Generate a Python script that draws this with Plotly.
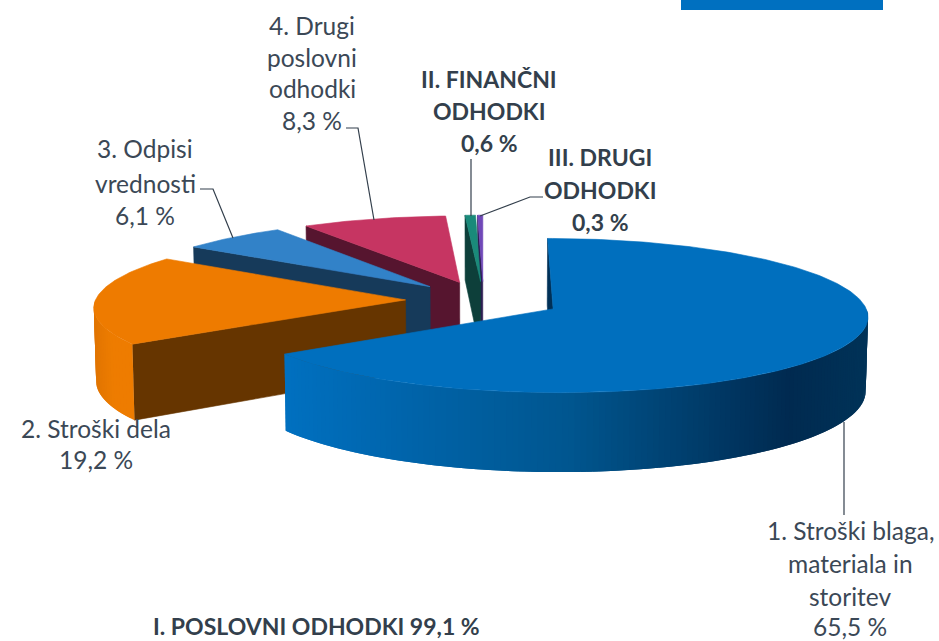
import numpy as np
import plotly.graph_objects as go

# ---- data ----
categories = ["1. Stroški blaga, materiala in storitev", "2. Stroški dela", "3. Odpisi vrednosti",
              "4. Drugi poslovni odhodki", "II. FINANČNI ODHODKI", "III. DRUGI ODHODKI"]
values = [65.5, 19.2, 6.1, 8.3, 0.6, 0.3]
top_colors = ["#006FBE", "#EE7B00", "#3282C8", "#C63562", "#1A8A7A", "#7048B8"]
wall_colors = ["#003057", "#663500", "#163A5A", "#56152F", "#0D3F3A", "#2C1C52"]
blue_wall_x = [285, 450, 570, 790, 870]
blue_wall_rgb = [(0, 112, 192), (0, 96, 163), (0, 86, 143), (0, 42, 80), (0, 51, 88)]
orange_wall_x = [93, 112, 140]
orange_wall_rgb = [(224, 116, 0), (238, 124, 0), (238, 124, 0)]

label_text = ["4. Drugi", "poslovni", "odhodki", "8,3 %",
              "3. Odpisi", "vrednosti", "6,1 %",
              "2. Stroški dela", "19,2 %",
              "1. Stroški blaga,", "materiala in", "storitev", "65,5 %"]
label_x = [312, 312, 312, 312, 145, 145, 145, 96, 96, 850, 850, 850, 850]
label_y = [25, 57, 88, 120, 148, 183, 215, 428, 459, 530, 563, 596, 626]
bold_text = ["II. FINANČNI", "ODHODKI", "0,6 %", "III. DRUGI", "ODHODKI", "0,3 %",
             "I. POSLOVNI ODHODKI 99,1 %"]
bold_x = [489, 489, 489, 600, 600, 600, 316]
bold_y = [79, 111, 143, 157, 190, 222, 626]
leaders = [([844, 844], [422, 515]),
           ([200, 213, 233], [189, 189, 238]),
           ([346, 358, 374], [128, 128, 220]),
           ([471, 471], [159, 216]),
           ([480, 530, 543], [216, 197, 197])]

# ---- projection of the exploded 3-D pie ----
CX, CY, R, TILT_R, EXPLODE, PERSP, DEPTH, DEPTH_K, BASE_X = 483.5, 300, 310, 75, 78, 0.085, 72.5, 0.086, 0.994


def project(theta, radius, phi):
    u = radius * np.sin(theta) + EXPLODE * np.sin(phi)
    v = radius * np.cos(theta) + EXPLODE * np.cos(phi)
    s = 1 / (1 + PERSP * v / R)
    x = CX + u * s
    y = CY - TILT_R / R * v * s
    bx = CX + (x - CX) * BASE_X
    by = y + DEPTH * (1 - DEPTH_K * v / R)
    return x, y, bx, by


def patch(fig, xs, ys, color, width=0.6):
    fig.add_trace(go.Scatter(x=list(xs), y=list(ys), mode="lines", fill="toself", fillcolor=color,
                             line=dict(color=color, width=width), hoverinfo="skip", showlegend=False))


def shade(x, xp, rgb):
    c = [int(round(np.interp(x, xp, [p[i] for p in rgb]))) for i in range(3)]
    return "rgb(%d,%d,%d)" % tuple(c)


fig = go.Figure()
fractions = np.array(values) / sum(values) * 2 * np.pi
stops = np.concatenate([[0], np.cumsum(fractions)])

for i in [5, 4, 3, 2, 1, 0]:
    a0, a1 = stops[i], stops[i + 1]
    phi = (a0 + a1) / 2
    # start-edge wall
    xa, ya, bxa, bya = project(np.array([a0]), 0.0, phi)
    xb, yb, bxb, byb = project(np.array([a0]), float(R), phi)
    patch(fig, [xa[0], xb[0], bxb[0], bxa[0], xa[0]], [ya[0], yb[0], byb[0], bya[0], ya[0]], wall_colors[i])
    # outer wall, only where it faces the viewer; each strip overlaps the next one to hide seams
    lo, hi = max(a0, np.pi / 2), min(a1, 1.5 * np.pi)
    if hi > lo and i < 2:
        n = 140 if i == 0 else 24
        th = np.linspace(lo, hi, n + 1)
        x, y, bx, by = project(th, float(R), phi)
        for k in range(n):
            xm = (x[k] + x[k + 1]) / 2
            col = shade(xm, blue_wall_x, blue_wall_rgb) if i == 0 else shade(xm, orange_wall_x, orange_wall_rgb)
            j0, j1 = (k, min(k + 2, n))
            seg = np.arange(j0, j1 + 1)
            patch(fig, np.r_[x[seg], bx[seg][::-1], x[j0]], np.r_[y[seg], by[seg][::-1], y[j0]], col, width=0)
    # top face
    th = np.linspace(a0, a1, max(8, int((a1 - a0) * 60)))
    x, y, _, _ = project(th, float(R), phi)
    xa, ya, _, _ = project(np.array([a0]), 0.0, phi)
    patch(fig, np.r_[xa, x, xa], np.r_[ya, y, ya], top_colors[i])

for lx, ly in leaders:
    fig.add_trace(go.Scatter(x=lx, y=ly, mode="lines", line=dict(color="#333F4C", width=1.2),
                             hoverinfo="skip", showlegend=False))

FONT = "Lato"
for t, x, y in zip(label_text, label_x, label_y):
    fig.add_annotation(x=x, y=y, text=t, showarrow=False, xanchor="center", yanchor="middle",
                       font=dict(family=FONT, size=24.5, color="#3B4856"))
for t, x, y in zip(bold_text, bold_x, bold_y):
    fig.add_annotation(x=x, y=y, text="<b>%s</b>" % t, showarrow=False, xanchor="center", yanchor="middle",
                       font=dict(family=FONT, size=23, color="#333F4C"))

fig.add_shape(type="rect", x0=681, x1=883, y0=0, y1=10, fillcolor="#0070C0", line_width=0, layer="above")

fig.update_layout(width=939, height=641, margin=dict(l=0, r=0, t=0, b=0), showlegend=False,
                  paper_bgcolor="white", plot_bgcolor="white",
                  xaxis=dict(range=[0, 939], visible=False, fixedrange=True),
                  yaxis=dict(range=[641, 0], visible=False, fixedrange=True))
fig.write_html("out.html", config={"displayModeBar": False},
               post_script="document.body.style.margin='0';document.documentElement.style.overflow='hidden';")
